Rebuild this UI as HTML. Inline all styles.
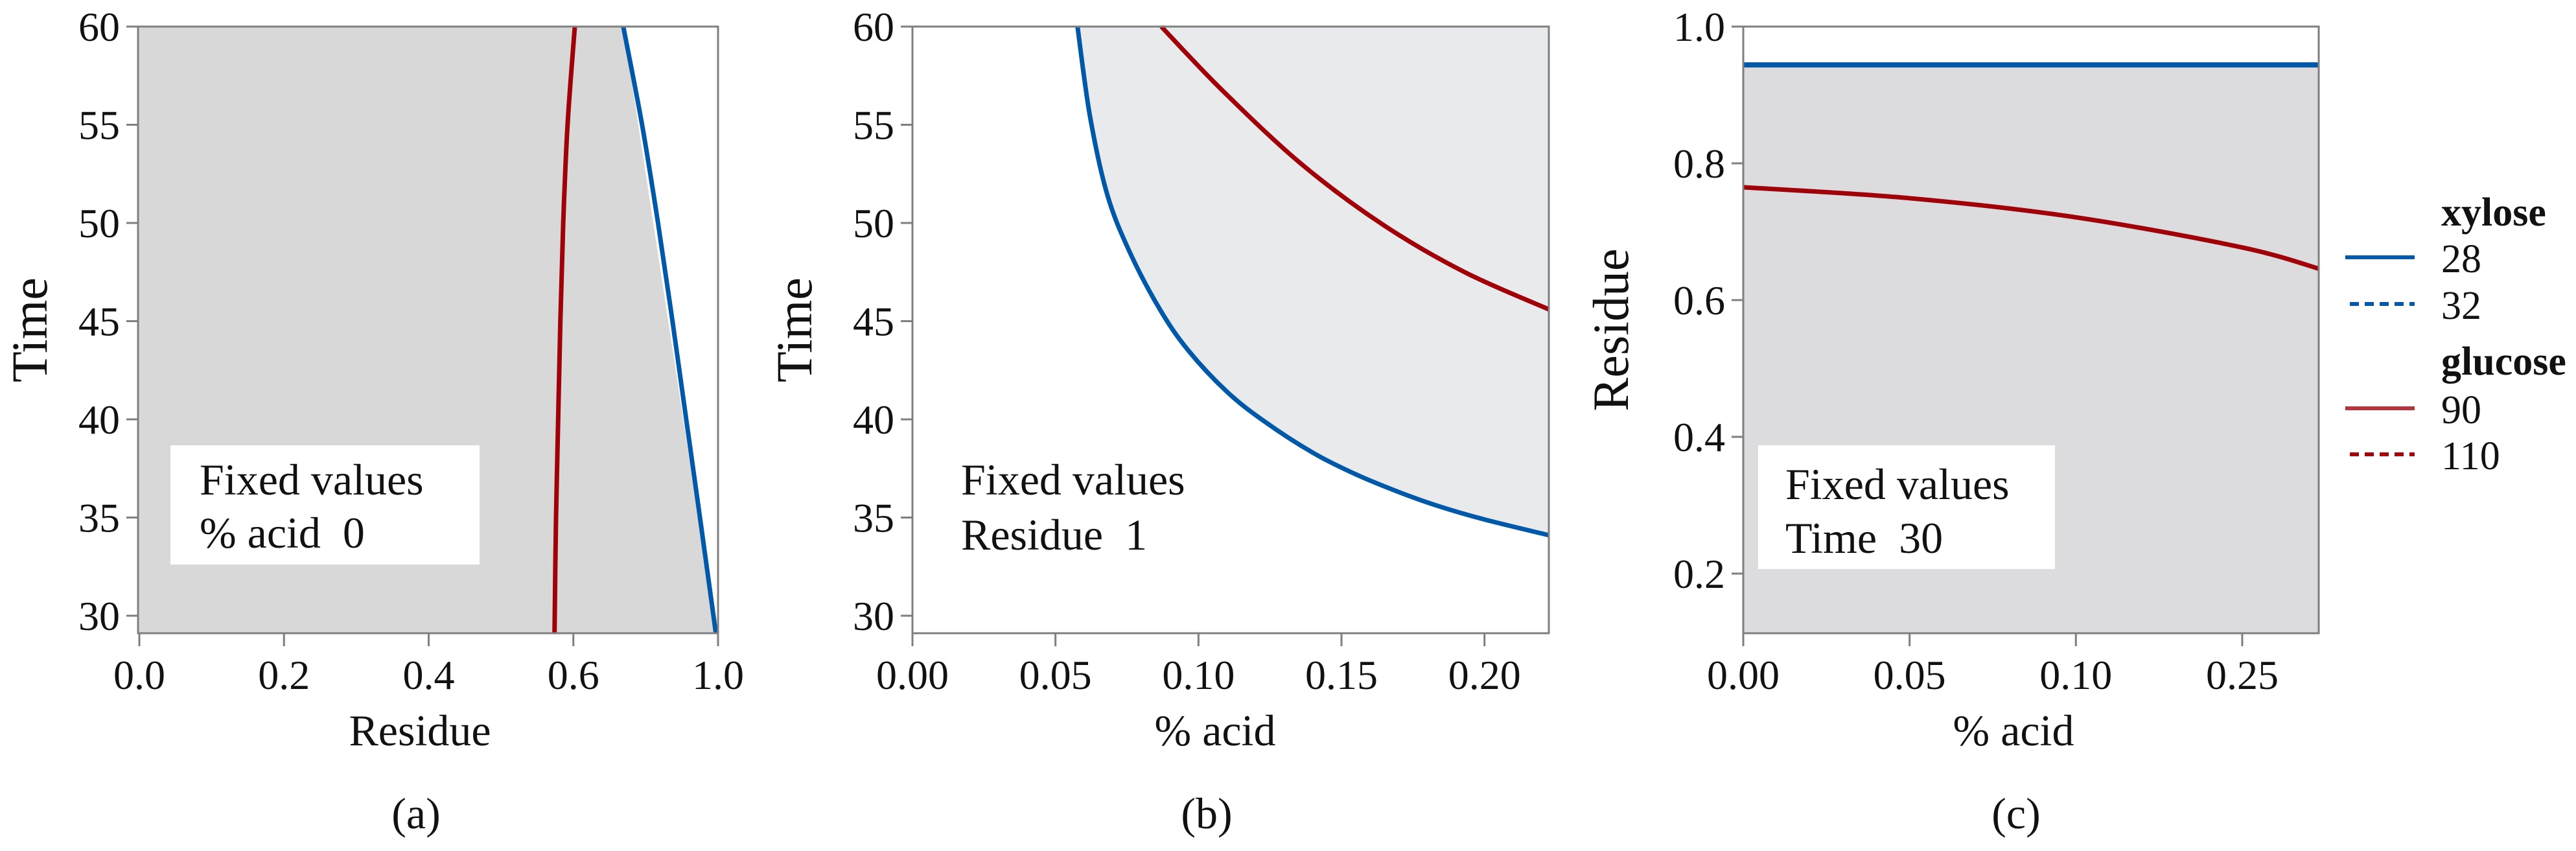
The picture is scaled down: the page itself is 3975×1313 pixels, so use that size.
<!DOCTYPE html>
<html><head><meta charset="utf-8">
<style>
html,body{margin:0;padding:0;background:#fff;}
svg{display:block;}
text{font-family:"Liberation Serif",serif;fill:#111;white-space:pre;}
</style></head>
<body>
<svg id="fig" width="3975" height="1313" viewBox="0 0 3975 1313" xmlns="http://www.w3.org/2000/svg"></svg>
<script>
// ---- Panel (a) data: Time vs Residue ----
const aTimes = [29.1, 35, 40, 45, 50, 55, 60];
const aGlucoseResidue = [0.574, 0.576, 0.579, 0.582, 0.586, 0.592, 0.602];
const aXyloseResidue = [0.797, 0.775, 0.756, 0.737, 0.717, 0.695, 0.669];
const aXTickVals = [0, 0.2, 0.4, 0.6, 0.8];
const aXTickLabels = ["0.0", "0.2", "0.4", "0.6", "1.0"];
const aYTicks = [30, 35, 40, 45, 50, 55, 60];

// ---- Panel (b) data: Time vs % acid ----
const bXyloseAcid = [0.0577, 0.062, 0.068, 0.0757, 0.0865, 0.0965, 0.11, 0.123, 0.14, 0.155, 0.17, 0.1835, 0.20, 0.2225];
const bXyloseTime = [60, 55.5, 51.5, 48.6, 45.6, 43.5, 41.4, 39.9, 38.3, 37.2, 36.3, 35.6, 34.9, 34.1];
const bGlucoseAcid = [0.087, 0.108, 0.136, 0.1646, 0.193, 0.2225];
const bGlucoseTime = [60, 56.8, 53.0, 49.9, 47.5, 45.6];
const bXTickVals = [0, 0.05, 0.10, 0.15, 0.20];
const bXTickLabels = ["0.00", "0.05", "0.10", "0.15", "0.20"];
const bYTicks = [30, 35, 40, 45, 50, 55, 60];

// ---- Panel (c) data: Residue vs % acid ----
const cAcid = [0, 0.05, 0.10, 0.15, 0.173];
const cGlucoseResidue = [0.765, 0.749, 0.721, 0.677, 0.646];
const cXyloseResidue = [0.944, 0.944, 0.944, 0.944, 0.944];
const cXTickVals = [0, 0.05, 0.10, 0.15];
const cXTickLabels = ["0.00", "0.05", "0.10", "0.25"];
const cYTicks = [0.2, 0.4, 0.6, 0.8, 1.0];
const cYTickLabels = ["0.2", "0.4", "0.6", "0.8", "1.0"];

const NS = "http://www.w3.org/2000/svg";
const svg = document.getElementById("fig");
const BLUE = "#0058a8", RED = "#a00008", AXIS = "#7f7f7f";

function mk(tag, attrs, parent) {
  const e = document.createElementNS(NS, tag);
  for (const k in attrs) e.setAttribute(k, attrs[k]);
  (parent || svg).appendChild(e);
  return e;
}
function lin(d0, d1, r0, r1) { return v => r0 + (v - d0) / (d1 - d0) * (r1 - r0); }
function smoothPts(xs, ys, sx, sy) {
  const p = xs.map((x, i) => [sx(x), sy(ys[i])]);
  let d = "M" + p[0][0].toFixed(1) + "," + p[0][1].toFixed(1);
  for (let i = 0; i < p.length - 1; i++) {
    const p0 = p[Math.max(0, i - 1)], p1 = p[i], p2 = p[i + 1], p3 = p[Math.min(p.length - 1, i + 2)];
    const c1 = [p1[0] + (p2[0] - p0[0]) / 6, p1[1] + (p2[1] - p0[1]) / 6];
    const c2 = [p2[0] - (p3[0] - p1[0]) / 6, p2[1] - (p3[1] - p1[1]) / 6];
    d += " C" + c1[0].toFixed(1) + "," + c1[1].toFixed(1) + " " + c2[0].toFixed(1) + "," + c2[1].toFixed(1) + " " + p2[0].toFixed(1) + "," + p2[1].toFixed(1);
  }
  return d;
}

function axes(g, L, R, T, B, sx, sy, xv, xl, yv, yl, xtitle, ytitle, ytx, xtc, cap, capx) {
  const frame = mk("rect", {x: L, y: T, width: R - L, height: B - T, fill: "none", stroke: AXIS, "stroke-width": 3}, g);
  
  
  xv.forEach((v, i) => {
    const x = sx(v);
    const t = mk("line", {x1: x, x2: x, y1: B, y2: B + 20, stroke: AXIS, "stroke-width": 3}, g);
    
    
    const lab = mk("text", {x: x, y: 1063, "font-size": 64, "text-anchor": "middle"}, g);
    lab.textContent = xl[i];
    
    
  });
  yv.forEach((v, i) => {
    const y = sy(v);
    const t = mk("line", {x1: L - 18, x2: L, y1: y, y2: y, stroke: AXIS, "stroke-width": 3}, g);
    
    
    const lab = mk("text", {x: L - 28, y: y + 22, "font-size": 64, "text-anchor": "end"}, g);
    lab.textContent = yl[i];
    
    
  });
  const xt = mk("text", {x: xtc, y: 1150, "font-size": 68, "text-anchor": "middle"}, g);
  xt.textContent = xtitle;
  
  
  const yc = (T + B) / 2;
  const yt = mk("text", {x: ytx, y: yc, "font-size": 78, "text-anchor": "middle", transform: "rotate(-90 " + ytx + " " + yc + ")"}, g);
  yt.textContent = ytitle;
  
  
  const c = mk("text", {x: capx, y: 1278, "font-size": 68, "text-anchor": "middle"}, g);
  c.textContent = cap;
  
  
}

function fixedBox(g, x, y, w, h, tx, b1, b2, line2, fill) {
  const r = mk("rect", {x: x, y: y, width: w, height: h, fill: fill}, g);
  
  
  const t1 = mk("text", {x: tx, y: b1, "font-size": 68}, g);
  t1.textContent = "Fixed values";
  
  
  const t2 = mk("text", {x: tx, y: b2, "font-size": 68}, g);
  t2.textContent = line2;
  
  
}

// ===== Panel (a) =====
(function () {
  const L = 213, R = 1108, T = 41, B = 977;
  const sx = lin(0, 0.8, 215, 1108);
  const sy = lin(30, 60, 950, 41);
  const g = mk("g", {});
  
  
  const xyPath = smoothPts(aXyloseResidue, aTimes, sx, sy);
  const d = "M" + L + "," + B + " L" + L + "," + T + " L" + sx(aXyloseResidue[aXyloseResidue.length - 1]).toFixed(1) + "," + T +
    " L" + sx(aXyloseResidue[0]).toFixed(1) + "," + B + " Z";
  const reg = mk("path", {d: d, fill: "#d8d8d9"}, g);
  
  
  fixedBox(g, 263, 687, 477, 184, 308, 763, 845, "% acid  0", "#ffffff");
  const gl = mk("path", {d: smoothPts(aGlucoseResidue, aTimes, sx, sy), fill: "none", stroke: RED, "stroke-width": 7}, g);
  
  
  const xy = mk("path", {d: xyPath, fill: "none", stroke: BLUE, "stroke-width": 7}, g);
  
  
  axes(g, L, R, T, B, sx, sy, aXTickVals, aXTickLabels, aYTicks, aYTicks.map(String), "Residue", "Time", 72, 648, "(a)", 642);
})();

// ===== Panel (b) =====
(function () {
  const L = 1408, R = 2390, T = 41, B = 977;
  const sx = lin(0, 0.2225, 1408, 2390);
  const sy = lin(30, 60, 950, 41);
  const g = mk("g", {});
  
  
  const xyPath = smoothPts(bXyloseAcid, bXyloseTime, sx, sy);
  const d = xyPath + " L" + R + "," + T + " Z";
  const reg = mk("path", {d: d, fill: "#e9eaec"}, g);
  
  
  fixedBox(g, 1450, 700, 330, 160, 1483, 763, 848, "Residue  1", "#ffffff");
  const gl = mk("path", {d: smoothPts(bGlucoseAcid, bGlucoseTime, sx, sy), fill: "none", stroke: RED, "stroke-width": 7}, g);
  
  
  const xy = mk("path", {d: xyPath, fill: "none", stroke: BLUE, "stroke-width": 7}, g);
  
  
  axes(g, L, R, T, B, sx, sy, bXTickVals, bXTickLabels, bYTicks, bYTicks.map(String), "% acid", "Time", 1252, 1875, "(b)", 1862);
})();

// ===== Panel (c) =====
(function () {
  const L = 2690, R = 3578, T = 41, B = 977;
  const sx = lin(0, 0.173, 2690, 3578);
  const sy = lin(0.2, 1.0, 885, 41);
  const g = mk("g", {});
  
  
  let d = "M" + L + "," + B;
  for (let i = 0; i < cAcid.length; i++) d += " L" + sx(cAcid[i]).toFixed(1) + "," + sy(cXyloseResidue[i]).toFixed(1);
  d += " L" + R + "," + B + " Z";
  const reg = mk("path", {d: d, fill: "#dcdcde"}, g);
  
  
  fixedBox(g, 2713, 687, 458, 191, 2755, 770, 853, "Time  30", "#ffffff");
  const gl = mk("path", {d: smoothPts(cAcid, cGlucoseResidue, sx, sy), fill: "none", stroke: RED, "stroke-width": 7}, g);
  
  
  const xy = mk("path", {d: smoothPts(cAcid, cXyloseResidue, sx, sy), fill: "none", stroke: BLUE, "stroke-width": 8}, g);
  
  
  axes(g, L, R, T, B, sx, sy, cXTickVals, cXTickLabels, cYTicks, cYTickLabels, "% acid", "Residue", 2512, 3107, "(c)", 3111);
})();

// ===== Legend =====
const legendItems = [
  {head: "xylose", y: 348},
  {label: "28", y: 397, color: BLUE, dash: null},
  {label: "32", y: 469, color: BLUE, dash: "14 9"},
  {head: "glucose", y: 578},
  {label: "90", y: 630, color: "#b8343c", dash: null},
  {label: "110", y: 701, color: RED, dash: "14 9"}
];
(function () {
  const g = mk("g", {});
  
  
  legendItems.forEach(it => {
    if (it.head) {
      const t = mk("text", {x: 3767, y: it.y, "font-size": 62, "font-weight": "bold"}, g);
      t.textContent = it.head;
      
      
    } else {
      const a = {x1: 3619, x2: 3726, y1: it.y, y2: it.y, stroke: it.color, "stroke-width": 6};
      if (it.dash) { a["stroke-dasharray"] = it.dash; a.x1 = 3626; }
      const l = mk("line", a, g);
      
      
      const t = mk("text", {x: 3767, y: it.y + 23, "font-size": 62}, g);
      t.textContent = it.label;
      
      
    }
  });
})();
</script>
</body></html>
